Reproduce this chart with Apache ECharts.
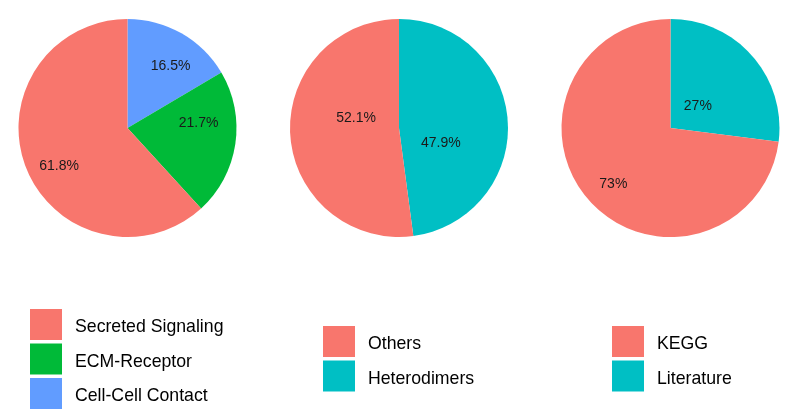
<!DOCTYPE html>
<html>
<head>
<meta charset="utf-8">
<script src="https://cdn.jsdelivr.net/npm/echarts@6/dist/echarts.min.js"></script>
<style>
html, body { margin: 0; padding: 0; background: #fff; }
#chart { width: 788px; height: 417px; }
</style>
</head>
<body>
<div id="chart"></div>
<script>
// pie 1: interaction types (clockwise from 12 o'clock)
const typeNames = ['Cell-Cell Contact', 'ECM-Receptor', 'Secreted Signaling'];
const typeValues = [16.5, 21.7, 61.8];
const typeColors = ['#619CFF', '#00BA38', '#F8766D'];
const typeLegend = ['Secreted Signaling', 'ECM-Receptor', 'Cell-Cell Contact'];

// pie 2: complex composition
const complexNames = ['Heterodimers', 'Others'];
const complexValues = [47.9, 52.1];
const complexColors = ['#00BFC4', '#F8766D'];
const complexLegend = ['Others', 'Heterodimers'];

// pie 3: evidence source
const sourceNames = ['Literature', 'KEGG'];
const sourceValues = [27, 73];
const sourceColors = ['#00BFC4', '#F8766D'];
const sourceLegend = ['KEGG', 'Literature'];

const font = 'Liberation Sans, Arial, sans-serif';
const R = 109;

function pie(center, names, values, colors) {
    return {
        type: 'pie',
        center: center,
        radius: [0, R],
        startAngle: 90,
        clockwise: true,
        silent: true,
        label: { show: false },
        labelLine: { show: false },
        itemStyle: { borderWidth: 0 },
        data: values.map((v, i) => ({ name: names[i], value: v, itemStyle: { color: colors[i] } }))
    };
}

// transparent ring only used to place one percent label:
// labelR = distance from centre, shift = angle nudge (deg, clockwise)
function label(center, values, idx, labelR, shift) {
    return {
        type: 'pie',
        center: center,
        radius: [0, labelR * 2],
        startAngle: 90 - shift,
        clockwise: true,
        silent: true,
        z: 3,
        itemStyle: { color: 'transparent', borderWidth: 0 },
        labelLine: { show: false },
        label: {
            position: 'inside',
            formatter: '{c}%',
            color: '#1a1a1a',
            fontSize: 14,
            fontFamily: font
        },
        data: values.map((v, i) => ({ value: v, label: { show: i === idx } }))
    };
}

function legend(left, top, names) {
    return {
        orient: 'vertical',
        left: left,
        top: top,
        padding: 0,
        icon: 'rect',
        itemWidth: 32,
        itemHeight: 31,
        itemGap: 3.5,
        selectedMode: false,
        formatter: '{n|{name}}',
        textStyle: {
            fontSize: 17.7, fontFamily: font, color: '#000', padding: [0, 0, 0, 8],
            rich: { n: { fontSize: 17.7, fontFamily: font, color: '#000', padding: [6, 0, 0, 0] } }
        },
        data: names
    };
}

const c1 = [127.5, 128], c2 = [399, 128], c3 = [670.5, 128];

const option = {
    backgroundColor: '#fff',
    animation: false,
    legend: [
        legend(30, 309, typeLegend),
        legend(323, 326, complexLegend),
        legend(612, 326, sourceLegend)
    ],
    series: [
        pie(c1, typeNames, typeValues, typeColors),
        pie(c2, complexNames, complexValues, complexColors),
        pie(c3, sourceNames, sourceValues, sourceColors),
        label(c1, typeValues, 0, 72.6, 5),
        label(c1, typeValues, 1, 68.2, -12.4),
        label(c1, typeValues, 2, 75.5, -8.2),
        label(c2, complexValues, 0, 41.3, 23.2),
        label(c2, complexValues, 1, 41, 16.5),
        label(c3, sourceValues, 0, 32, 2.7),
        label(c3, sourceValues, 1, 76.9, -2.9)
    ]
};

const myChart = echarts.init(document.getElementById('chart'));
myChart.setOption(option);
</script>
</body>
</html>
